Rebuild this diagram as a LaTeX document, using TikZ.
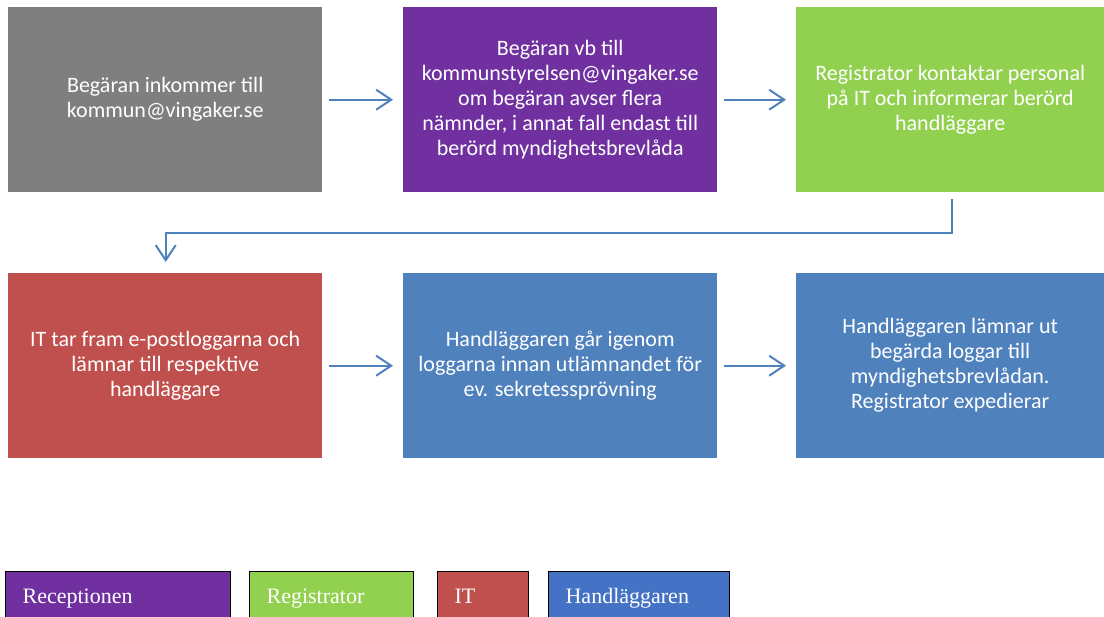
\documentclass[tikz,border=0pt]{standalone}
\usepackage{fontspec}
\setmainfont{Carlito}
\newfontfamily\legendfont{Liberation Serif}
\usetikzlibrary{arrows.meta,calc}

\definecolor{stepgray}{HTML}{7F7F7F}
\definecolor{steppurple}{HTML}{7030A0}
\definecolor{stepgreen}{HTML}{92D050}
\definecolor{stepred}{HTML}{C0504D}
\definecolor{stepblue}{HTML}{4F81BD}
\definecolor{legendblue}{HTML}{4472C4}
\definecolor{arrowblue}{HTML}{4F81BD}

\begin{document}
\begin{tikzpicture}[x=1pt,y=-1pt,
  flowbox/.style={fill=#1, draw=none, text=white, anchor=north west,
    minimum width=314pt, minimum height=185pt, inner sep=0pt,
    align=center, font=\fontsize{22}{25}\selectfont},
  legendbox/.style={fill=#1, draw=black, line width=1.2pt, text=white,
    anchor=north west, minimum height=50pt, inner xsep=17pt,
    text depth=9pt, text height=22pt, align=left,
    font=\legendfont\fontsize{22}{24}\selectfont},
  flowarrow/.style={draw=arrowblue, line width=2pt,
    -{Straight Barb[length=15pt,width=20pt,line width=2pt]}}]

\useasboundingbox (0,0) rectangle (1104,617);

% process steps, first row
\node[flowbox=stepgray] (s1) at (8,7) {Begäran inkommer till\\kommun@vingaker.se};
\node[flowbox=steppurple] (s2) at (403,7) {Begäran vb till\\kommunstyrelsen@vingaker.se\\om begäran avser flera\\nämnder, i annat fall endast till\\berörd myndighetsbrevlåda};
\node[flowbox=stepgreen, minimum width=308pt] (s3) at (796,7) {Registrator kontaktar personal\\på IT och informerar berörd\\handläggare};

% process steps, second row
\node[flowbox=stepred] (s4) at (8,273) {IT tar fram e-postloggarna och\\lämnar till respektive\\handläggare};
\node[flowbox=stepblue] (s5) at (403,273) {Handläggaren går igenom\\loggarna innan utlämnandet för\\ev. sekretessprövning};
\node[flowbox=stepblue, minimum width=308pt] (s6) at (796,273) {Handläggaren lämnar ut\\begärda loggar till\\myndighetsbrevlådan.\\Registrator expedierar};

% connectors
\draw[flowarrow, shorten <=7pt, shorten >=10pt] (s1.east) -- (s2.west);
\draw[flowarrow, shorten <=7pt, shorten >=10pt] (s2.east) -- (s3.west);
\draw[flowarrow, shorten <=7pt, shorten >=10pt] (s4.east) -- (s5.west);
\draw[flowarrow, shorten <=7pt, shorten >=10pt] (s5.east) -- (s6.west);
\coordinate (bendtop) at ($(s3.south)+(2,7)$);
\coordinate (bendend) at ($(s4.north)+(0.5,-11)$);
\draw[flowarrow] (bendtop) -- (bendtop |- 0,233) -- (bendend |- 0,233) -- (bendend);

% legend
\node[legendbox=steppurple, text width=191pt] (l1) at (5,571) {Receptionen};
\node[legendbox=stepgreen, text width=130pt] (l2) at (249,571) {Registrator};
\node[legendbox=stepred, text width=57pt] (l3) at (437,571) {IT};
\node[legendbox=legendblue, text width=147pt] (l4) at (548,571) {Handläggaren};
\end{tikzpicture}
\end{document}
